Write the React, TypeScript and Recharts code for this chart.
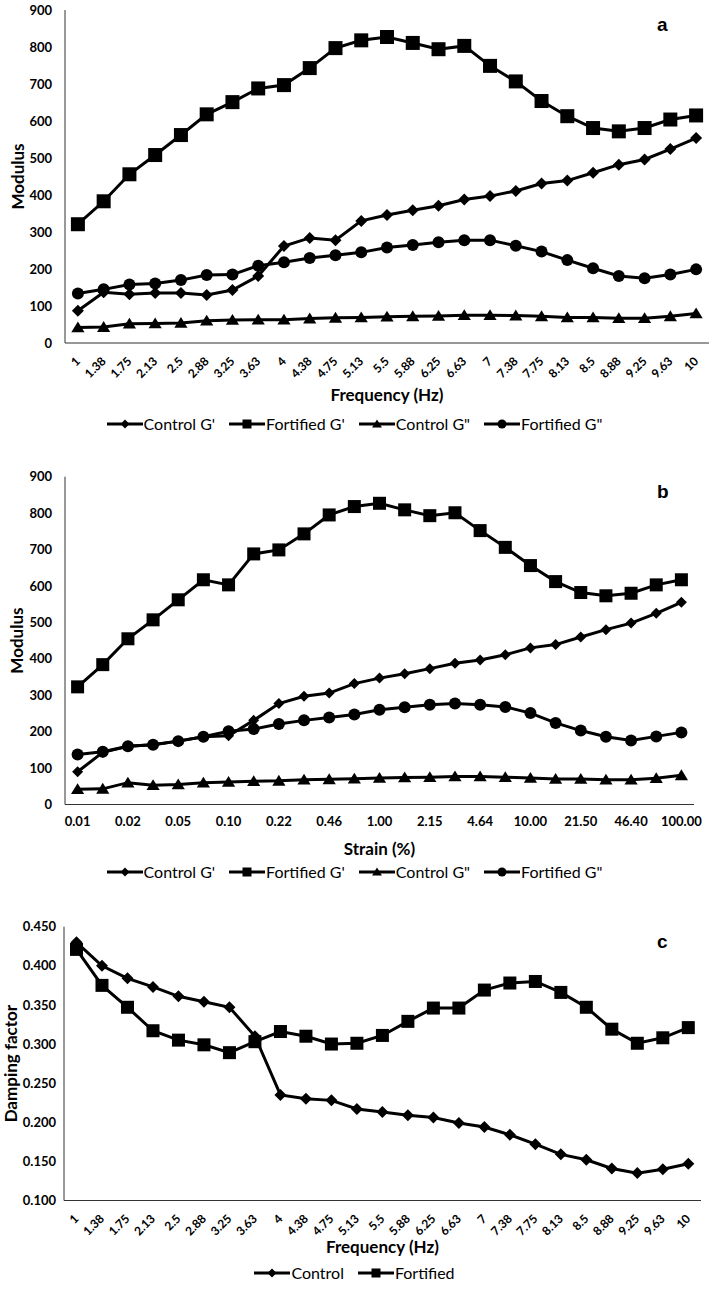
import React from 'react';
import { LineChart, Line, XAxis, YAxis, Legend } from 'recharts';

// frequency sweep categories (charts a and c)
const freqLabels = ['1', '1.38', '1.75', '2.13', '2.5', '2.88', '3.25', '3.63', '4', '4.38', '4.75', '5.13', '5.5', '5.88', '6.25', '6.63', '7', '7.38', '7.75', '8.13', '8.5', '8.88', '9.25', '9.63', '10'];

// strain sweep categories (chart b), every other one is labelled
const strainLabels = ['0.01', '0.015', '0.02', '0.03', '0.05', '0.07', '0.10', '0.15', '0.22', '0.32', '0.46', '0.68', '1.00', '1.47', '2.15', '3.16', '4.64', '6.81', '10.00', '14.70', '21.50', '31.60', '46.40', '68.10', '100.00'];

// chart a
const controlGpA = [87, 137, 132, 135, 135, 130, 143, 181, 262, 284, 278, 330, 346, 359, 371, 388, 397, 411, 431, 439, 460, 482, 496, 524, 554];
const fortifiedGpA = [321, 383, 456, 508, 562, 618, 651, 688, 697, 743, 797, 818, 827, 811, 794, 803, 749, 707, 654, 613, 581, 572, 581, 604, 615];
const controlGppA = [42, 43, 52, 53, 54, 60, 62, 63, 63, 66, 68, 69, 71, 72, 73, 75, 75, 74, 72, 69, 69, 67, 67, 72, 80];
const fortifiedGppA = [134, 145, 158, 161, 170, 184, 185, 209, 218, 230, 237, 245, 258, 265, 272, 278, 278, 263, 247, 224, 202, 181, 175, 185, 199];

// chart b
const controlGpB = [90, 143, 160, 164, 174, 186, 189, 231, 277, 297, 306, 332, 347, 359, 373, 388, 397, 411, 430, 439, 460, 480, 498, 525, 555];
const fortifiedGpB = [323, 384, 455, 507, 562, 617, 603, 688, 699, 743, 795, 818, 827, 809, 793, 801, 752, 706, 656, 612, 582, 573, 580, 603, 617];
const controlGppB = [42, 43, 60, 53, 55, 60, 62, 64, 65, 68, 69, 71, 73, 74, 75, 77, 77, 75, 73, 70, 70, 68, 68, 72, 80];
const fortifiedGppB = [137, 145, 160, 164, 174, 186, 201, 207, 221, 231, 239, 247, 260, 267, 274, 277, 274, 268, 251, 224, 203, 186, 176, 187, 198];

// chart c
const dampControl = [0.43, 0.4, 0.384, 0.373, 0.361, 0.354, 0.347, 0.31, 0.235, 0.23, 0.228, 0.217, 0.213, 0.209, 0.206, 0.199, 0.194, 0.184, 0.172, 0.159, 0.152, 0.141, 0.135, 0.14, 0.147];
const dampFortified = [0.421, 0.375, 0.347, 0.317, 0.305, 0.299, 0.289, 0.303, 0.316, 0.31, 0.3, 0.301, 0.311, 0.329, 0.346, 0.346, 0.369, 0.378, 0.38, 0.366, 0.347, 0.319, 0.301, 0.308, 0.321];

const modulusTicks = [0, 100, 200, 300, 400, 500, 600, 700, 800, 900];
const dampTicks = [0.1, 0.15, 0.2, 0.25, 0.3, 0.35, 0.4, 0.45];

const dataA = freqLabels.map((f, i) => ({ f, cGp: controlGpA[i], fGp: fortifiedGpA[i], cGpp: controlGppA[i], fGpp: fortifiedGppA[i] }));
const dataB = strainLabels.map((s, i) => ({ s, cGp: controlGpB[i], fGp: fortifiedGpB[i], cGpp: controlGppB[i], fGpp: fortifiedGppB[i] }));
const dataC = freqLabels.map((f, i) => ({ f, control: dampControl[i], fortified: dampFortified[i] }));

const FONT = 'Lato, "Open Sans", sans-serif';
const INK = '#000';
const AXIS = '#333';

type Shape = 'diamond' | 'square' | 'triangle' | 'circle';

const Marker = ({ shape, cx, cy, size }: { shape: Shape; cx: number; cy: number; size: number }) => {
  const h = size / 2;
  if (shape === 'square') return <rect x={cx - h} y={cy - h} width={size} height={size} fill={INK} />;
  if (shape === 'circle') return <circle cx={cx} cy={cy} r={h} fill={INK} />;
  if (shape === 'diamond')
    return <path d={`M${cx},${cy - h}L${cx + h},${cy}L${cx},${cy + h}L${cx - h},${cy}Z`} fill={INK} />;
  return <path d={`M${cx},${cy - h}L${cx + h * 1.1},${cy + h * 0.8}L${cx - h * 1.1},${cy + h * 0.8}Z`} fill={INK} />;
};

const dotOf = (shape: Shape, size: number) => (props: any) => {
  const { cx, cy, index } = props;
  if (cx == null || cy == null) return <g key={index} />;
  return (
    <g key={index}>
      <Marker shape={shape} cx={cx} cy={cy} size={size} />
    </g>
  );
};

const AngledTick = ({ x, y, payload }: any) => (
  <g transform={`translate(${x},${y + 8})`}>
    <text textAnchor="end" dy="0.35em" transform="rotate(-45)" fontSize={12} fontWeight={700} fill={INK}>
      {payload.value}
    </text>
  </g>
);

const yLabel = (text: string, x: number) => (props: any) => {
  const { viewBox } = props;
  const cy = viewBox.y + viewBox.height / 2;
  return (
    <text x={x} y={cy} transform={`rotate(-90, ${x}, ${cy})`} textAnchor="middle" dominantBaseline="central" fontSize={17} fontWeight={700} fill={INK}>
      {text}
    </text>
  );
};

type LegendItem = { name: string; shape: Shape };

const legendOf = (items: LegendItem[]) => () => (
  <div style={{ display: 'flex', justifyContent: 'center', gap: 14, fontSize: 16, color: INK, fontFamily: FONT }}>
    {items.map((it) => (
      <div key={it.name} style={{ display: 'flex', alignItems: 'center' }}>
        <svg width={36} height={14}>
          <line x1={0} y1={7} x2={36} y2={7} stroke={INK} strokeWidth={3} />
          <Marker shape={it.shape} cx={18} cy={7} size={9} />
        </svg>
        <span style={{ marginLeft: 1 }}>{it.name}</span>
      </div>
    ))}
  </div>
);

const modulusLegend: LegendItem[] = [
  { name: "Control G'", shape: 'diamond' },
  { name: "Fortified G'", shape: 'square' },
  { name: 'Control G"', shape: 'triangle' },
  { name: 'Fortified G"', shape: 'circle' },
];

const dampLegend: LegendItem[] = [
  { name: 'Control', shape: 'diamond' },
  { name: 'Fortified', shape: 'square' },
];

const yTick = { fontSize: 13, fontWeight: 700, fill: INK };
const xTitle = { position: 'insideBottom' as const, fontSize: 17, fontWeight: 700, fill: INK };

const PanelTag = ({ text, top }: { text: string; top: number }) => (
  <div style={{ position: 'absolute', left: 657, top, fontFamily: '"Liberation Sans", Arial, sans-serif', fontWeight: 700, fontSize: 19, lineHeight: '20px' }}>
    {text}
  </div>
);

export default function App() {
  return (
    <div style={{ position: 'absolute', left: 0, top: 0, width: 709, height: 1293, background: '#fff', fontFamily: FONT }}>
      <div style={{ position: 'absolute', left: 0, top: 0 }}>
        <LineChart width={709} height={440} data={dataA} margin={{ top: 10, right: 0, left: 0, bottom: 37 }}>
          <XAxis
            dataKey="f"
            interval={0}
            height={60}
            padding={{ left: 12.9, right: 12.9 }}
            tick={<AngledTick />}
            tickLine={false}
            axisLine={{ stroke: AXIS }}
            label={{ ...xTitle, value: 'Frequency (Hz)', offset: 2 }}
          />
          <YAxis
            width={65}
            domain={[0, 900]}
            ticks={modulusTicks}
            tick={yTick}
            tickLine={false}
            tickMargin={7}
            axisLine={{ stroke: AXIS }}
            label={yLabel('Modulus', 17)}
          />
          <Legend layout="horizontal" verticalAlign="middle" align="center" wrapperStyle={{ top: 414, left: 0, width: 709 }} content={legendOf(modulusLegend)} />
          <Line dataKey="cGp" stroke={INK} strokeWidth={3} dot={dotOf('diamond', 12)} isAnimationActive={false} />
          <Line dataKey="fGp" stroke={INK} strokeWidth={3} dot={dotOf('square', 14)} isAnimationActive={false} />
          <Line dataKey="cGpp" stroke={INK} strokeWidth={3} dot={dotOf('triangle', 12)} isAnimationActive={false} />
          <Line dataKey="fGpp" stroke={INK} strokeWidth={3} dot={dotOf('circle', 12)} isAnimationActive={false} />
        </LineChart>
      </div>
      <PanelTag text="a" top={15} />

      <div style={{ position: 'absolute', left: 0, top: 440 }}>
        <LineChart width={709} height={450} data={dataB} margin={{ top: 36.7, right: 15, left: 0, bottom: 35.5 }}>
          <XAxis
            dataKey="s"
            interval={1}
            height={50}
            padding={{ left: 12.6, right: 12.6 }}
            tick={{ fontSize: 13, fontWeight: 700, fill: INK }}
            tickLine={false}
            tickMargin={6}
            axisLine={{ stroke: AXIS }}
            label={{ ...xTitle, value: 'Strain (%)', offset: 0 }}
          />
          <YAxis
            width={65}
            domain={[0, 900]}
            ticks={modulusTicks}
            tick={yTick}
            tickLine={false}
            tickMargin={7}
            axisLine={{ stroke: AXIS }}
            label={yLabel('Modulus', 17)}
          />
          <Legend layout="horizontal" verticalAlign="middle" align="center" wrapperStyle={{ top: 422, left: 0, width: 709 }} content={legendOf(modulusLegend)} />
          <Line dataKey="cGp" stroke={INK} strokeWidth={3} dot={dotOf('diamond', 11)} isAnimationActive={false} />
          <Line dataKey="fGp" stroke={INK} strokeWidth={3} dot={dotOf('square', 13)} isAnimationActive={false} />
          <Line dataKey="cGpp" stroke={INK} strokeWidth={3} dot={dotOf('triangle', 12)} isAnimationActive={false} />
          <Line dataKey="fGpp" stroke={INK} strokeWidth={3} dot={dotOf('circle', 12)} isAnimationActive={false} />
        </LineChart>
      </div>
      <PanelTag text="b" top={482} />

      <div style={{ position: 'absolute', left: 0, top: 890 }}>
        <LineChart width={709} height={403} data={dataC} margin={{ top: 36.7, right: 8, left: 0, bottom: 37.5 }}>
          <XAxis
            dataKey="f"
            interval={0}
            height={55}
            padding={{ left: 12.5, right: 12.7 }}
            tick={<AngledTick />}
            tickLine={false}
            axisLine={{ stroke: AXIS }}
            label={{ ...xTitle, value: 'Frequency (Hz)', offset: 3 }}
          />
          <YAxis
            width={64}
            domain={[0.1, 0.45]}
            ticks={dampTicks}
            tick={yTick}
            tickLine={false}
            tickMargin={2}
            tickFormatter={(v: number) => v.toFixed(3)}
            axisLine={{ stroke: AXIS }}
            label={yLabel('Damping factor', 11)}
          />
          <Legend layout="horizontal" verticalAlign="middle" align="center" wrapperStyle={{ top: 373, left: 0, width: 709 }} content={legendOf(dampLegend)} />
          <Line dataKey="control" stroke={INK} strokeWidth={3} dot={dotOf('diamond', 12)} isAnimationActive={false} />
          <Line dataKey="fortified" stroke={INK} strokeWidth={3} dot={dotOf('square', 13)} isAnimationActive={false} />
        </LineChart>
      </div>
      <PanelTag text="c" top={932} />
    </div>
  );
}
